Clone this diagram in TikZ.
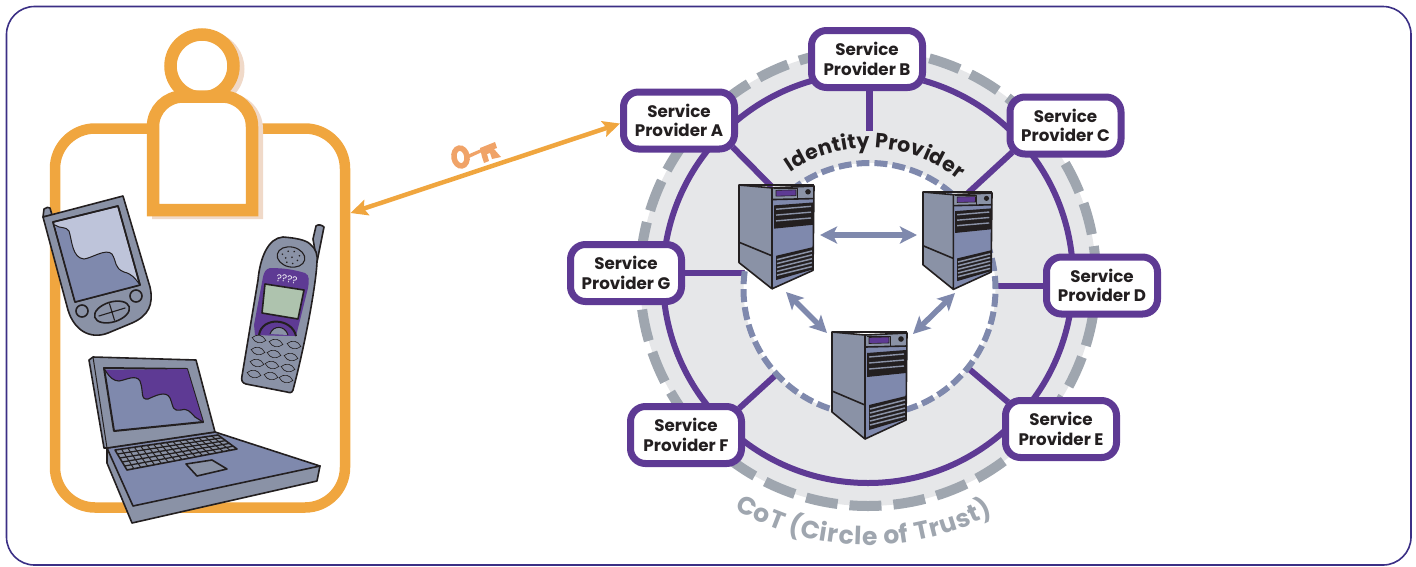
\documentclass[tikz,border=0pt]{standalone}
\usepackage{fontspec}
\setmainfont{Poppins}
\usetikzlibrary{arrows.meta,calc,shadows,decorations.text}
\definecolor{cpurple}{HTML}{5E3A94}
\definecolor{corange}{HTML}{F0A63F}
\definecolor{cshade}{HTML}{F0D9C8}
\definecolor{ckey}{HTML}{F0A368}
\definecolor{cdisc}{HTML}{E6E7E9}
\definecolor{cdash}{HTML}{9FA6AF}
\definecolor{cblue}{HTML}{7F89AD}
\definecolor{clight}{HTML}{BEC4DA}
\definecolor{cgrey}{HTML}{8A92A6}
\definecolor{cink}{HTML}{231F20}
\definecolor{cframe}{HTML}{3B2F85}
\definecolor{clilac}{HTML}{CDBEDD}
\definecolor{cgreen}{HTML}{AEC3AE}
\pgfdeclarelayer{back}
\pgfsetlayers{back,main}
\tikzset{
 sp/.style={draw=cpurple,line width=7pt,fill=white,rounded corners=15pt,minimum width=111pt,minimum height=57pt,inner sep=0pt,align=center,
   font=\fontsize{16.7}{19.5}\selectfont\bfseries,text=cink,drop shadow={shadow xshift=2.5pt,shadow yshift=-2.5pt,opacity=1,fill=clilac}},
 spoke/.style={draw=cpurple,line width=6pt,shorten <=-8pt},
 ink/.style={draw=cink,line width=1.6pt,line join=round},
 link/.style={draw=cblue,line width=5.5pt,{Stealth[length=17pt,width=17pt,inset=4pt]}-{Stealth[length=17pt,width=17pt,inset=4pt]}},
 keyarrow/.style={draw=corange,line width=4.5pt,{Stealth[length=17pt,width=16pt,inset=3pt]}-{Stealth[length=17pt,width=16pt,inset=3pt]}},
}
\newcommand{\serverdraw}[4]{%
 \begin{scope}[shift={(#1,#2)},xscale=#3,yscale=#4]
  \fill[cgrey] (0,0)--(33,3)--(33,107)--(0,80)--cycle;
  \fill[cblue] (33,3)--(75,1)--(74,88)--(33,107)--cycle;
  \fill[cgrey] (33,3)--(75,1)--(75,14)--(33,15)--cycle;
  \draw[ink] (0,0)--(33,3)--(33,107)--(0,80)--cycle;
  \draw[ink] (33,3)--(75,1)--(74,88)--(33,107);
  \draw[ink,line width=2.2pt] (0,0)--(75,0);
  \draw[ink] (0,59)--(33,73);
  \draw[ink] (33,15)--(75,14);
  \draw[ink,line width=1pt] (35,4)--(58,4)--(58,14);
  \fill[cpurple,draw=cink,line width=.6pt] (37,5.5)--(57,5)--(57,11)--(37,11.5)--cycle;
  \fill[cink] (69,7) circle[radius=2.8pt];
  \fill[cink] (35,21)--(74,18)--(74,41)--(35,45)--cycle;
  \foreach \a/\b in {25/22,31/28,37/34}{\draw[cgrey,line width=1.4pt] (37,\a)--(72,\b);}
  \fill[cink] (37,73)--(74,64)--(74,87)--(37,98)--cycle;
  \foreach \a/\b in {77/68,81/72,85/76,89/80,93/84}{\draw[cgrey,line width=1.5pt] (38,\a)--(73,\b);}
 \end{scope}}
\begin{document}
\begin{tikzpicture}[x=1pt,y=-1pt]
\useasboundingbox (0,0) rectangle (1416,566);
% outer frame
\draw[cframe,line width=1.6pt,rounded corners=28pt] (6.5,6.5) rectangle (1411,565);
% user box
\node[draw=corange,line width=10.5pt,rounded corners=40pt,minimum width=290pt,minimum height=379pt,inner sep=0pt] (userbox) at (200,318) {};
% person shadow and person
\fill[cshade] (207,69) circle[radius=37.5pt];
\fill[cshade] (152,219) [rounded corners=36pt] -- (152,93) -- (263,93) [sharp corners] -- (263,219) -- cycle;
\draw[corange,line width=12.5pt,fill=white] (202,66) circle[radius=31.5pt];
\draw[corange,line width=12.5pt,fill=white,miter limit=10] (153,210) [rounded corners=30pt] -- (153,96.5) -- (252,96.5) [sharp corners] -- (252,210) -- cycle;
% PDA
\draw[ink,fill=cgrey] (43,217)--(44,209) .. controls (46,207) and (49,207) .. (50,208)--(52,215)--cycle;
\draw[ink,fill=cgrey] (43,217)--(123,196)--(150,287) .. controls (154,305) and (148,316) .. (132,323)--(108,333) .. controls (90,340) and (74,330) .. (68,310)--cycle;
\draw[ink,fill=clight] (53,222)--(118,206)--(140,285)--(75,302)--cycle;
\fill[cblue] (55,225) .. controls (60,229) and (66,226) .. (69,231) .. controls (72,240) and (72,258) .. (84,259) .. controls (92,258) and (106,248) .. (112,254) .. controls (117,262) and (114,268) .. (124,272) .. controls (132,274) and (135,278) .. (140,285)--(75,302)--cycle;
\draw[cink,line width=1pt] (55,225) .. controls (60,229) and (66,226) .. (69,231) .. controls (72,240) and (72,258) .. (84,259) .. controls (92,258) and (106,248) .. (112,254) .. controls (117,262) and (114,268) .. (124,272) .. controls (132,274) and (135,278) .. (140,285);
\draw[ink] (53,222)--(118,206)--(140,285)--(75,302)--cycle;
\draw[ink,fill=cgrey] (82,311) circle[radius=6pt];
\draw[ink,fill=cgrey] (136,296) circle[radius=6pt];
\begin{scope}[shift={(112,312)},rotate=17]
 \draw[ink,fill=cgrey] (0,0) ellipse[x radius=18pt,y radius=10pt];
 \draw[ink,line width=1.1pt] (-14,0)--(14,0) (0,-9)--(0,9);
\end{scope}
% phone
\draw[ink,fill=cgrey] (313,239)--(316,226) .. controls (318,224) and (322,225) .. (324,227)--(317,262)--cycle;
\draw[ink,fill=cgrey] (283,237) .. controls (296,238) and (306,240) .. (310,244) .. controls (316,248) and (318,256) .. (317,262) .. controls (316,285) and (305,345) .. (293,390) .. controls (292,393) and (290,393) .. (287,392)--(246,384) .. controls (242,383) and (241,380) .. (242,376)--(258,280) .. controls (260,258) and (268,238) .. (283,237)--cycle;
\begin{scope}[shift={(291,257)},rotate=-12]
 \draw[ink,line width=1.1pt] (0,0) ellipse[x radius=14pt,y radius=10pt];
 \foreach \p in {(-9,-1),(-4,-5),(2,-6),(8,-3),(-5,2),(1,0),(7,2),(-3,6),(3,6)}{\fill[cink] \p circle[radius=.9pt];}
\end{scope}
\fill[cpurple] (270,268) .. controls (285,268) and (295,270) .. (305,273) .. controls (310,275) and (309,282) .. (308,288)--(296,336)--(255,335)--(254,325)--(263,277) .. controls (264,272) and (266,269) .. (270,268)--cycle;
\draw[ink,fill=cgreen] (265,284)--(304,290)--(298,319)--(262,313)--cycle;
\node[font=\fontsize{10}{10}\selectfont,text=white,rotate=-8,inner sep=0pt] (qq) at (287,279) {????};
\draw[ink,line width=2pt,fill=cpurple] (259,335) .. controls (262,316) and (292,318) .. (296,336);
\draw[ink,line width=1pt,fill=cgrey] (270,334) .. controls (273,325) and (285,325) .. (288,335);
\foreach \x/\y in {259/339,276/343,294/345,258/351,274/354,291/357,257/363,272/365,288/368,254/374,271/376,286/379}{
 \begin{scope}[shift={(\x,\y)},rotate=-12]
  \draw[cink,line width=.6pt,fill=cgrey] (-7,0) .. controls (-3,-5) and (3,-5) .. (7,0) .. controls (3,5) and (-3,5) .. (-7,0)--cycle;
 \end{scope}}
% laptop
\draw[ink,fill=cgrey] (107,448)--(107,463)--(132,523)--(317,481)--(320,466)--cycle;
\draw[ink,fill=cblue] (107,448)--(215,432)--(320,466)--(133,506)--cycle;
\draw[ink,fill=cgrey] (89,360)--(93,357)--(196,360)--(215,432)--(107,448)--(104,448)--cycle;
\draw[ink,line width=1pt] (93,357)--(107,448);
\draw[ink,fill=cblue,line width=2pt] (104,368)--(187,369)--(203,422)--(114,431)--cycle;
\fill[cpurple] (105,370) .. controls (110,378) and (114,381) .. (119,381) .. controls (126,380) and (136,374) .. (140,381) .. controls (144,392) and (140,400) .. (148,399) .. controls (155,396) and (166,390) .. (170,398) .. controls (174,408) and (172,411) .. (181,410) .. controls (188,408) and (190,412) .. (195,417)--(203,422)--(187,369)--cycle;
\draw[cink,line width=1.1pt] (105,370) .. controls (110,378) and (114,381) .. (119,381) .. controls (126,380) and (136,374) .. (140,381) .. controls (144,392) and (140,400) .. (148,399) .. controls (155,396) and (166,390) .. (170,398) .. controls (174,408) and (172,411) .. (181,410) .. controls (188,408) and (190,412) .. (195,417)--(203,422);
\coordinate (k00) at (115,450);\coordinate (k10) at (218,435);\coordinate (k11) at (237,449);\coordinate (k01) at (127,470);
\draw[ink,fill=cgrey] (k00)--(k10)--(k11)--(k01)--cycle;
\foreach \i in {1,...,15}{\draw[cink,line width=1pt] ($(k00)!\i/16!(k10)$)--($(k01)!\i/16!(k11)$);}
\foreach \i in {1,...,4}{\draw[cink,line width=1.3pt] ($(k00)!\i/5!(k01)$)--($(k10)!\i/5!(k11)$);}
\draw[ink,fill=cgrey] (186,464)--(212,460)--(227,469)--(197,476)--cycle;
% key arrow and key
\coordinate (keyL) at (350.5,213);
\coordinate (keyR) at (620,123.5);
\draw[keyarrow] (keyL)--(keyR);
\begin{scope}[shift={(460.5,157)},rotate=10]
 \draw[ckey,line width=5.5pt] (0,0) ellipse[x radius=6.5pt,y radius=9pt];
\end{scope}
\fill[ckey] (467,155)--(481,149)--(482,152)--(469,158)--cycle;
\fill[ckey] (480,148)--(495,142)--(497,148)--(494,149)--(501,157)--(492,159)--(490,153)--(487,154)--(489,161)--(484,163)--(482,157)--cycle;
% disc, rings
\begin{pgfonlayer}{back}
\fill[cdisc] (868,278) circle[radius=228pt];
\draw[cdash,line width=10pt,dash pattern=on 32pt off 12pt] (868,278) circle[radius=228pt];
\draw[cpurple,line width=6pt] (868,278) circle[radius=205pt];
\end{pgfonlayer}
% provider nodes
\node[sp] (A) at (679,120.5) {Service\\Provider A};
\node[sp] (B) at (867,59) {Service\\Provider B};
\node[sp] (C) at (1065.5,125.5) {Service\\Provider C};
\node[sp] (D) at (1102,285.5) {Service\\Provider D};
\node[sp] (E) at (1061,429) {Service\\Provider E};
\node[sp] (F) at (686,435) {Service\\Provider F};
\node[sp] (G) at (626,273) {Service\\Provider G};
% spokes
\coordinate (hubA) at (772,187);\coordinate (hubB) at (869,131);\coordinate (hubC) at (968,193);
\coordinate (hubD) at (985,285.5);\coordinate (hubE) at (955,357);\coordinate (hubF) at (790,362);\coordinate (hubG) at (755,273);
\begin{pgfonlayer}{back}
\draw[spoke] (A.south east)--(hubA);
\draw[spoke,line width=7pt] (B.south -| hubB)--(hubB);
\draw[spoke] (C.south west)--(hubC);
\draw[spoke] (D.west)--(hubD);
\draw[spoke] (E.north west)--(hubE);
\draw[spoke] (F.north east)--(hubF);
\draw[spoke] (G.east)--(hubG);
\fill[white] (869.5,289) circle[radius=126pt];
\draw[cblue,line width=6pt,dash pattern=on 13pt off 5pt] (869.5,289) circle[radius=126pt];
\end{pgfonlayer}
% servers
\serverdraw{739}{185}{1}{.97}
\serverdraw{923}{192}{.92}{.91}
\serverdraw{832}{332}{1}{1}
\coordinate (s1r) at (820,235);\coordinate (s2l) at (917,235);
\coordinate (s1b) at (786,292);\coordinate (s3a) at (827,333);
\coordinate (s2b) at (955,293);\coordinate (s3b) at (913,334);
\draw[link] (s1r)--(s2l);
\draw[link] (s1b)--(s3a);
\draw[link] (s2b)--(s3b);
% curved labels
\path[decorate,decoration={text along path,text align={fit to path},raise=0pt,
  text={|\fontsize{20.5}{21}\selectfont\bfseries\color{cink}|Identity Provider}}]
  plot[domain=236:309,samples=60] ({869.5+141*cos(\x)},{289+141*sin(\x)});
\path[decorate,decoration={text along path,text align={fit to path},
  text={|\fontsize{25}{25}\selectfont\bfseries\color{cdash}|CoT (Circle of Trust)}}]
  plot[domain=120:62,samples=50] ({868+267*cos(\x)},{278+267*sin(\x)});
\end{tikzpicture}
\end{document}
